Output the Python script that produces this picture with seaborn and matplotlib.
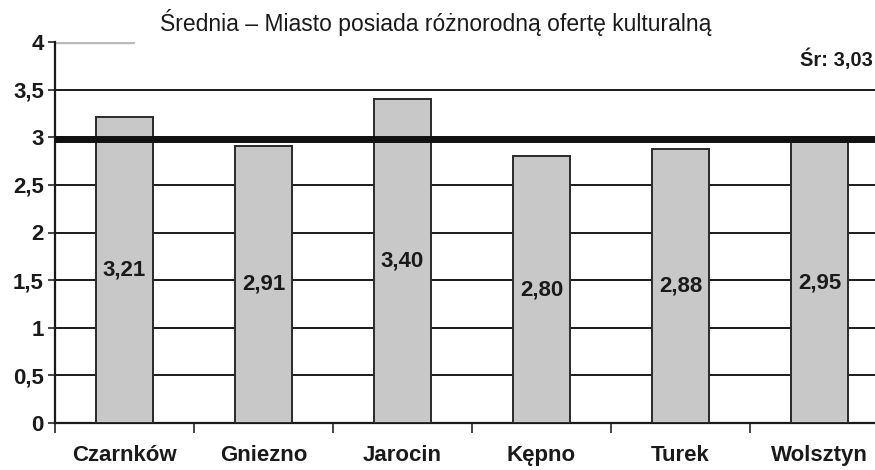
import matplotlib
matplotlib.use('Agg')
import matplotlib.pyplot as plt
import matplotlib.ticker as mticker
import seaborn as sns

cities = ['Czarnków', 'Gniezno', 'Jarocin', 'Kępno', 'Turek', 'Wolsztyn']
values = [3.21, 2.91, 3.40, 2.80, 2.88, 2.95]
mean_label = 3.03
mean_line = 2.98
title = 'Średnia – Miasto posiada różnorodną ofertę kulturalną'

sns.set_style('white')
plt.rcParams['font.family'] = ['Liberation Sans', 'DejaVu Sans']

fig = plt.figure(figsize=(8.75, 4.7), dpi=100)
ax = fig.add_axes([55/875, 47/470, 834/875, 381/470])

sns.barplot(x=cities, y=values, color='#c8c8c8', width=0.41,
            edgecolor='#2a2a2a', linewidth=1.4, saturation=1, ax=ax, zorder=3)

ax.set_ylim(0, 4)
ax.set_xlim(-0.5, len(cities) - 0.5)
ax.set_yticks([0, 0.5, 1, 1.5, 2, 2.5, 3, 3.5, 4])
ax.yaxis.set_major_formatter(mticker.FuncFormatter(
    lambda v, p: f'{v:g}'.replace('.', ',')))

# black gridlines, the top one is a light grey frame line
for yv in [0.5, 1, 1.5, 2, 2.5, 3, 3.5]:
    ax.axhline(yv, color='#1a1a1a', linewidth=1.4, zorder=1)
ax.axhline(4, xmin=0, xmax=(133 - 55) / 834, color='#bbbbbb', linewidth=2.5, zorder=1)

# average line
ax.axhline(mean_line, color='#111111', linewidth=5, zorder=4)

for s in ['top', 'right']:
    ax.spines[s].set_visible(False)
ax.spines['left'].set_color('#1a1a1a')
ax.spines['left'].set_linewidth(1.6)
ax.spines['bottom'].set_color('#1a1a1a')
ax.spines['bottom'].set_linewidth(1.6)

ax.tick_params(axis='y', direction='out', length=5, width=1.2, left=True,
               labelsize=16, pad=3)
ax.tick_params(axis='x', which='major', length=0, labelsize=16, pad=16)
ax.set_xticks([i + 0.5 for i in range(-1, len(cities))], minor=True)
ax.tick_params(axis='x', which='minor', direction='out', length=7, width=1.2,
               bottom=True)
for lbl in ax.get_xticklabels() + ax.get_yticklabels():
    lbl.set_fontweight('bold')
    lbl.set_color('#1a1a1a')

for container in ax.containers:
    ax.bar_label(container, labels=[f'{v:.2f}'.replace('.', ',') for v in values],
                 label_type='center', fontsize=16, fontweight='bold',
                 color='#1a1a1a', zorder=5)

fig.text(0.997, 1 - 66/470, f'Śr: {mean_label:.2f}'.replace('.', ','),
         ha='right', va='baseline', fontsize=14.5, fontweight='bold',
         color='#1a1a1a')

fig.text(0.498, 0.953, title, ha='center', va='center', fontsize=16.5,
         color='#1a1a1a')

fig.savefig('out.png', dpi=100)
